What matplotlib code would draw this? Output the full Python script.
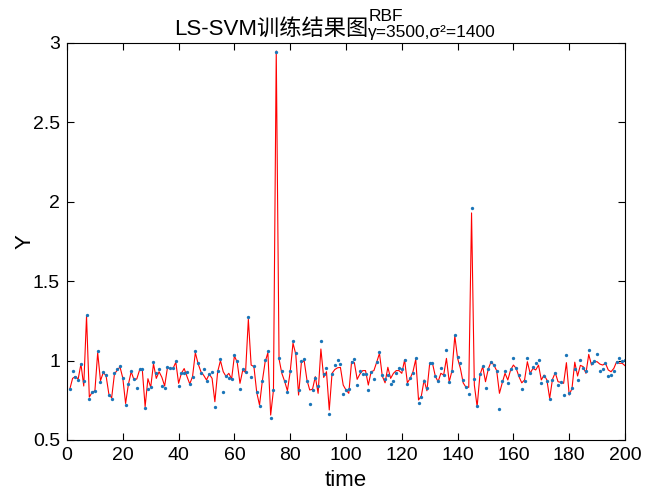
import numpy as np
import matplotlib.pyplot as plt

plt.rcParams['font.family'] = ['Liberation Sans', 'Noto Sans CJK SC', 'DejaVu Sans']

time = np.arange(1, 201)

# measured values (blue dots)
y_true = [
    0.820, 0.934, 0.895, 0.878, 0.981, 0.869, 1.289, 0.760, 0.800, 0.811,
    1.062, 0.867, 0.930, 0.909, 0.785, 0.758, 0.924, 0.945, 0.968, 0.893,
    0.720, 0.850, 0.937, 0.884, 0.830, 0.945, 0.945, 0.700, 0.819, 0.832,
    0.989, 0.924, 0.945, 0.838, 0.825, 0.960, 0.951, 0.953, 0.997, 0.838,
    0.920, 0.920, 0.928, 0.850, 0.899, 1.060, 0.987, 0.924, 0.945, 0.874,
    0.916, 0.930, 0.708, 0.934, 1.008, 0.804, 0.903, 0.893, 0.884, 1.035,
    0.997, 0.819, 0.945, 0.928, 1.272, 0.899, 0.966, 0.800, 0.714, 0.871,
    1.001, 1.062, 0.641, 0.815, 2.945, 1.014, 0.937, 0.871, 0.804, 0.937,
    1.125, 1.046, 0.815, 0.997, 1.010, 0.874, 0.725, 0.815, 0.890, 0.840,
    1.123, 0.916, 0.951, 0.664, 0.916, 0.972, 1.004, 0.979, 0.787, 0.813,
    0.823, 0.993, 1.008, 0.846, 0.932, 0.916, 0.916, 0.813, 0.926, 0.884,
    0.993, 1.052, 0.907, 0.884, 0.909, 0.850, 0.871, 0.920, 0.951, 0.945,
    1.004, 0.850, 0.893, 0.924, 1.014, 0.731, 0.773, 0.871, 0.825, 0.983,
    0.983, 0.903, 0.871, 0.951, 0.909, 1.065, 0.863, 0.934, 1.159, 1.020,
    0.983, 0.878, 0.832, 0.787, 1.960, 0.884, 0.714, 0.913, 0.966, 0.830,
    0.947, 0.993, 0.972, 0.937, 0.697, 0.874, 0.934, 0.857, 0.947, 1.018,
    0.953, 0.907, 0.823, 0.874, 1.014, 0.924, 0.962, 0.983, 1.001, 0.857,
    0.905, 0.874, 0.758, 0.878, 0.924, 0.846, 0.863, 0.781, 1.035, 0.798,
    0.825, 0.947, 0.876, 1.004, 0.955, 0.934, 1.065, 0.983, 0.999, 1.039,
    0.934, 0.947, 0.985, 0.901, 0.907, 0.932, 0.993, 1.018, 0.999, 1.004,
]

# LS-SVM output (red line)
y_fit = [
    0.820, 0.888, 0.900, 0.884, 0.979, 0.840, 1.280, 0.770, 0.800, 0.810,
    1.050, 0.873, 0.925, 0.905, 0.790, 0.765, 0.915, 0.940, 0.960, 0.890,
    0.730, 0.850, 0.930, 0.880, 0.884, 0.940, 0.940, 0.710, 0.886, 0.832,
    0.980, 0.888, 0.930, 0.895, 0.840, 0.955, 0.950, 0.950, 0.990, 0.857,
    0.920, 0.950, 0.900, 0.853, 0.900, 1.050, 0.980, 0.930, 0.907, 0.878,
    0.915, 0.888, 0.741, 0.930, 1.000, 0.930, 0.900, 0.920, 0.884, 1.030,
    0.990, 0.857, 0.940, 0.925, 1.260, 0.972, 0.962, 0.800, 0.720, 0.870,
    0.990, 1.050, 0.657, 0.815, 2.950, 1.010, 0.920, 0.870, 0.810, 0.930,
    1.110, 1.040, 0.783, 0.987, 1.000, 0.878, 0.815, 0.820, 0.899, 0.794,
    1.073, 0.894, 0.930, 0.689, 0.920, 0.944, 0.955, 0.957, 0.846, 0.815,
    0.794, 0.993, 0.987, 0.882, 0.916, 0.937, 0.937, 0.846, 0.930, 0.937,
    0.990, 1.046, 0.903, 0.860, 0.958, 0.888, 0.920, 0.937, 0.937, 0.920,
    1.004, 0.860, 0.888, 0.930, 1.008, 0.752, 0.777, 0.878, 0.810, 0.983,
    0.983, 0.903, 0.867, 0.920, 0.909, 1.014, 0.867, 0.937, 1.155, 1.014,
    0.951, 0.860, 0.832, 0.832, 1.930, 0.846, 0.710, 0.909, 0.962, 0.867,
    0.947, 0.993, 0.972, 0.937, 0.794, 0.860, 0.920, 0.878, 0.941, 0.972,
    0.951, 0.899, 0.860, 0.878, 0.993, 0.920, 0.951, 0.941, 0.972, 0.878,
    0.909, 0.878, 0.762, 0.882, 0.924, 0.867, 0.863, 0.857, 0.987, 0.783,
    0.825, 0.990, 0.903, 0.970, 0.962, 0.920, 1.039, 0.972, 0.993, 0.993,
    0.978, 0.972, 0.983, 0.941, 0.930, 0.951, 0.993, 0.983, 0.983, 0.968,
]

x_ticks = list(range(0, 201, 20))
y_ticks = [0.5, 1, 1.5, 2, 2.5, 3]
y_tick_labels = ['0.5', '1', '1.5', '2', '2.5', '3']

W, H = 645, 492
fig = plt.figure(figsize=(W / 100, H / 100), dpi=100)
ax = fig.add_axes([67 / W, 1 - 440 / H, 558 / W, 397 / H])

ax.plot(time, y_fit, color='#ff0000', lw=0.8)
ax.plot(time, y_true, ls='none', marker='o', ms=2.4, mec='none', color='#1a75b8')

ax.set_xlim(0, 200)
ax.set_ylim(0.5, 3)
ax.set_xticks(x_ticks)
ax.set_yticks(y_ticks)
ax.set_yticklabels(y_tick_labels)
ax.tick_params(direction='in', top=True, right=True, length=5, width=0.8,
               labelsize=14, pad=5)
for s in ax.spines.values():
    s.set_linewidth(0.8)

ax.set_xlabel('time', fontsize=16, labelpad=4)
ax.set_ylabel('Y', fontsize=16, labelpad=-2)

# title with stacked super/subscript like MATLAB
fig.text(368 / W, 1 - 35 / H, 'LS-SVM训练结果图', fontsize=16, ha='right', va='baseline')
fig.text(369 / W, 1 - 21 / H, 'RBF', fontsize=12.5, ha='left', va='baseline')
fig.text(368 / W, 1 - 37 / H, 'γ=3500,σ²=1400', fontsize=12.5, ha='left', va='baseline')

fig.savefig('out.png', dpi=100)
